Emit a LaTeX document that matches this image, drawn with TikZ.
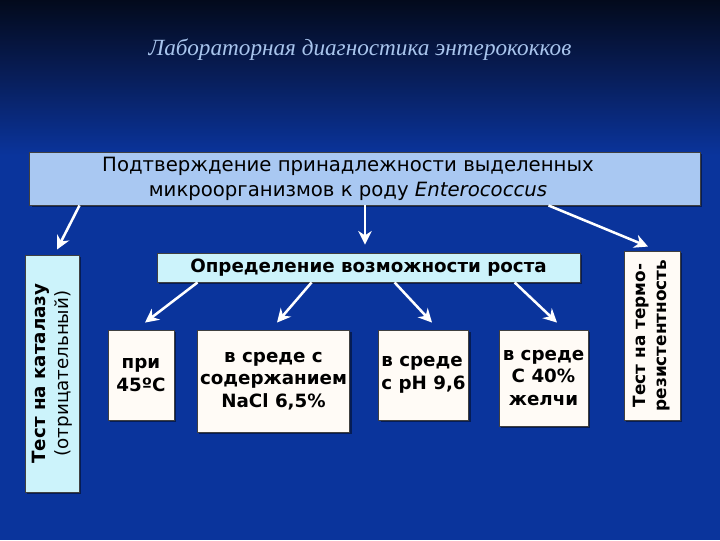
\documentclass[tikz,border=0pt]{standalone}
\usepackage{fontspec}
\setmainfont{DejaVu Sans}
\newfontfamily\titlefont{Liberation Serif}
\usetikzlibrary{arrows.meta,positioning}
\definecolor{bgtop}{HTML}{030A1C}
\definecolor{bgmid}{HTML}{081E5A}
\definecolor{bgbot}{HTML}{0A349C}
\definecolor{titleblue}{HTML}{A8C4EC}
\definecolor{headblue}{HTML}{A9C8F2}
\definecolor{paleteal}{HTML}{CCF3FB}
\definecolor{paper}{HTML}{FFFBF6}
\tikzset{
    box/.style={draw=black!75, line width=0.6pt, inner sep=2pt, align=center, font=\bfseries\fontsize{13}{16}\selectfont},
    arr/.style={-{Stealth[length=3.4mm,width=3.4mm]}, white, line width=1.8pt},
    shadowed/.style={preaction={fill=black, opacity=0.45, transform canvas={xshift=1.5pt,yshift=-1.5pt}}}
}

\begin{document}
\begin{tikzpicture}[x=0.025cm, y=0.025cm]
    \fill[bgbot] (0,0) rectangle (720,540);
    \shade[top color=bgtop, bottom color=bgbot, middle color=bgmid] (0,385) rectangle (720,540);
    \useasboundingbox (0,0) rectangle (720,540);

    \node[font=\titlefont\itshape\fontsize{16.5}{18}\selectfont, text=titleblue] (title) at (360,490) {Лабораторная диагностика энтерококков};

    \node[box, shadowed, fill=headblue, minimum width=16.75cm, minimum height=1.325cm, font=\fontsize{14}{17.8}\selectfont] (confirm) at (365,361.5) {Подтверждение принадлежности выделенных\hspace*{0.85cm}\\микроорганизмов к роду \textit{Enterococcus}\hspace*{0.85cm}};

    \node[box, shadowed, fill=paleteal, rotate=90, minimum width=5.925cm, minimum height=1.35cm] (catalase) at (52,166.5) {Тест на каталазу\\\mdseries(отрицательный)};
    \node[box, shadowed, fill=paper, rotate=90, minimum width=4.225cm, minimum height=1.4cm, font=\bfseries\fontsize{12}{15}\selectfont] (thermo) at (652,204.5) {Тест на термо-\\резистентность};

    \node[box, shadowed, fill=paleteal, minimum width=10.575cm, minimum height=0.725cm] (growth) at (368.5,272.5) {Определение возможности роста};

    \node[box, shadowed, fill=paper, minimum width=1.65cm, minimum height=2.25cm] (temp) at (141,165) {при\\45ºC};
    \node[box, shadowed, fill=paper, minimum width=3.725cm, minimum height=2.55cm] (salt) at (273.5,159) {в среде с\\содержанием\\NaCl 6,5\%};
    \node[box, shadowed, fill=paper, minimum width=2.225cm, minimum height=2.25cm, align=left] (alkali) at (423.5,165) {в среде\\с pH 9,6};
    \node[box, shadowed, fill=paper, minimum width=2.225cm, minimum height=2.4cm] (bile) at (543.5,162) {в среде\\С 40\%\\желчи};

    \draw[arr] ([xshift=1.25cm]confirm.south west) -- ([shift={(0.125cm,0.125cm)}]catalase.east);
    \draw[arr, shorten >=0.2cm] (confirm.south) -- (confirm.south |- growth.north);
    \draw[arr] ([xshift=-3.8cm]confirm.south east) -- ([shift={(-0.1cm,0.1cm)}]thermo.east);

    \draw[arr] ([xshift=1.025cm]growth.south west) -- ([shift={(0.1cm,0.175cm)}]temp.north);
    \draw[arr] ([xshift=3.875cm]growth.south west) -- ([shift={(0.0875cm,0.175cm)}]salt.north);
    \draw[arr] ([xshift=5.95cm]growth.south west) -- ([shift={(0.2125cm,0.175cm)}]alkali.north);
    \draw[arr] ([xshift=8.95cm]growth.south west) -- ([shift={(0.3375cm,0.175cm)}]bile.north);
\end{tikzpicture}
\end{document}
